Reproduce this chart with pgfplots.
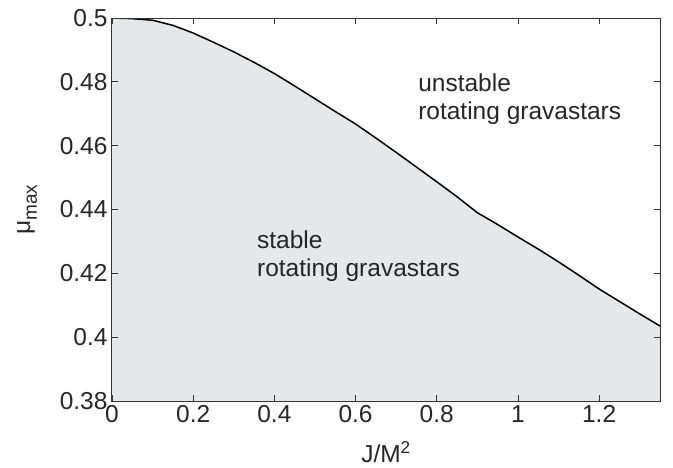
\documentclass[border=0pt]{standalone}
\usepackage{fontspec}
\setmainfont{Liberation Sans}
\usepackage{pgfplots}
\pgfplotsset{compat=1.18}
\definecolor{fillgray}{HTML}{E6E7E9}
\pgfplotstableread{
x y
0 0.5
0.05 0.4998
0.1 0.4993
0.15 0.4977
0.2 0.4953
0.25 0.4924
0.3 0.4894
0.35 0.4861
0.4 0.4826
0.45 0.4787
0.5 0.4747
0.55 0.4707
0.6 0.4668
0.65 0.4624
0.7 0.4579
0.75 0.4533
0.8 0.4487
0.85 0.4440
0.9 0.4390
0.95 0.4353
1.0 0.4314
1.05 0.4276
1.1 0.4236
1.15 0.4194
1.2 0.4151
1.25 0.4112
1.3 0.4073
1.35 0.4035
}\curve
\begin{document}
\begin{tikzpicture}
\begin{axis}[
  scale only axis,
  width=548pt, height=383pt,
  xmin=0, xmax=1.35, ymin=0.38, ymax=0.5,
  xtick={0,0.2,0.4,0.6,0.8,1,1.2},
  ytick={0.38,0.4,0.42,0.44,0.46,0.48,0.5},
  xticklabels={0,0.2,0.4,0.6,0.8,1,1.2},
  yticklabels={0.38,0.4,0.42,0.44,0.46,0.48,0.5},
  tick align=inside,
  major tick length=6pt,
  axis line style={line width=1pt, black!80},
  tick style={line width=0.8pt, black!80},
  font=\fontsize{24.5}{28.5}\selectfont,
  tick label style={font=\fontsize{24.5}{28.5}\selectfont, text=black!85},
  yticklabel style={xshift=-1pt},
  xticklabel style={yshift=-1pt},
  /pgf/number format/assume math mode=true,
  xlabel={J/M\textsuperscript{2}},
  ylabel={μ\raisebox{-0.28em}{\fontsize{19}{20}\selectfont max}},
  xlabel style={at={(axis description cs:0.5,-0.133)}, anchor=center, text=black!85},
  ylabel style={at={(axis description cs:-0.155,0.5)}, anchor=center, text=black!85},
  clip=true,
  axis on top,
]
\addplot[fill=fillgray, draw=none] table[x=x,y=y] {\curve} \closedcycle;
\addplot[black, line width=1.5pt] table[x=x,y=y] {\curve};
\node[anchor=west, align=left, text=black!85, inner sep=0pt] at (axis cs:0.754,0.4746) {unstable\\rotating gravastars};
\node[anchor=west, align=left, text=black!85, inner sep=0pt] at (axis cs:0.357,0.4254) {stable\\rotating gravastars};
\end{axis}
\path ([shift={(-112pt,-66pt)}]current axis.south west) rectangle ([shift={(13pt,18pt)}]current axis.north east);
\end{tikzpicture}
\end{document}
